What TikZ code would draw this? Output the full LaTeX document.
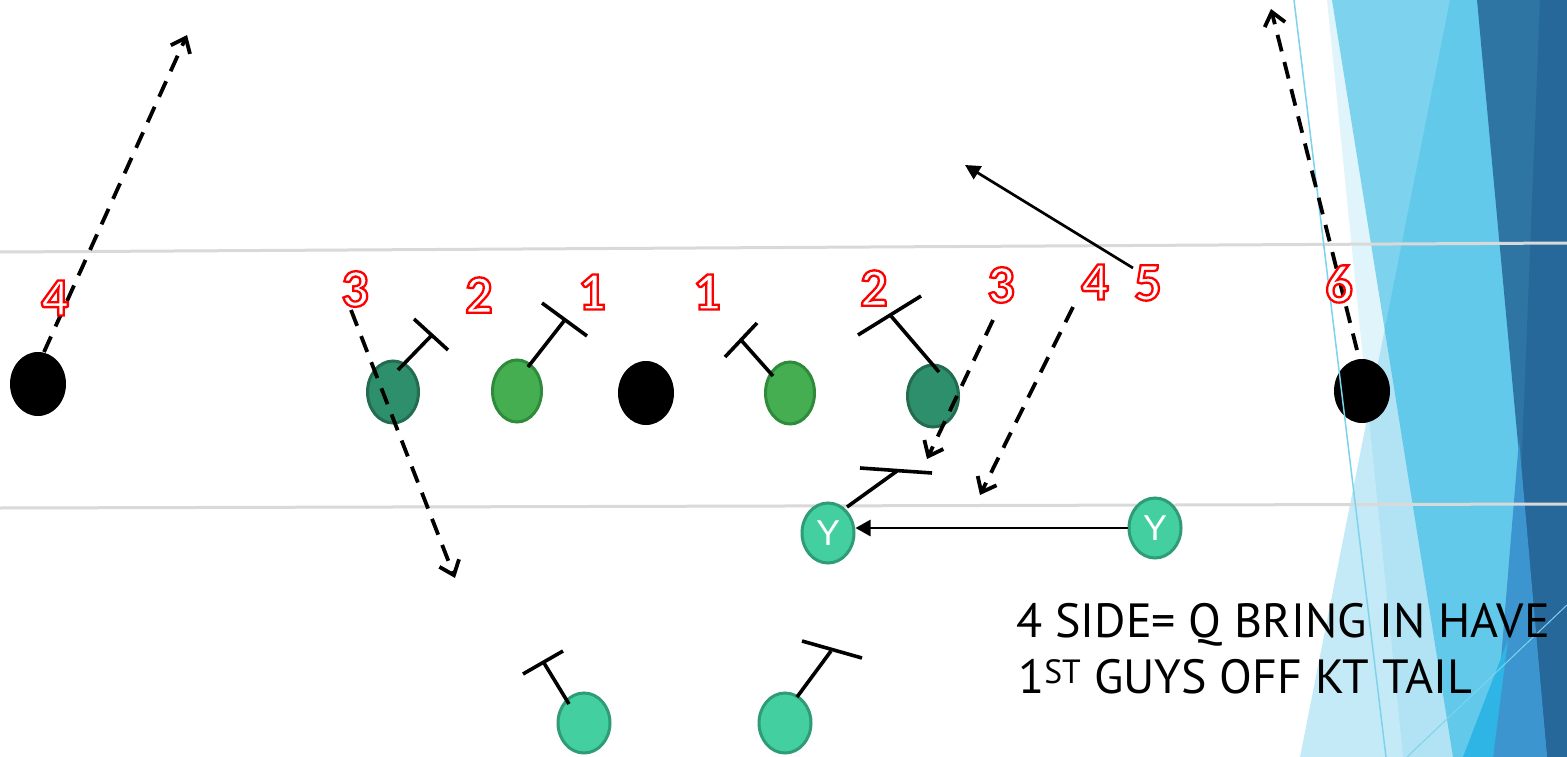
\documentclass[tikz,border=0pt]{standalone}
\usepackage{fontspec}
\setmainfont{Carlito}
\newfontfamily\numfont{Carlito}
\newfontfamily\txtfont{PT Sans}
\newfontfamily\yfont{Liberation Sans}
\usetikzlibrary{shapes.geometric,arrows.meta}
\definecolor{pA}{HTML}{C5EAF7}
\definecolor{pS}{RGB}{100,200,236}
\definecolor{pB}{RGB}{10,172,223}
\definecolor{pDark}{HTML}{2E75A3}
\definecolor{pDarker}{HTML}{27689B}
\definecolor{pMed}{HTML}{3D95CF}
\definecolor{pBright}{HTML}{2EB5E5}
\definecolor{pLine}{HTML}{7DD3EE}
\definecolor{fieldline}{HTML}{D9D9D9}
\definecolor{dgfill}{HTML}{2D8F6B}
\definecolor{dgline}{HTML}{236C50}
\definecolor{lgfill}{HTML}{45AE50}
\definecolor{lgline}{HTML}{2E8B3B}
\definecolor{tlfill}{HTML}{44CFA0}
\definecolor{tlline}{HTML}{2E9C75}
\newcommand\outl[1]{\special{pdf:literal direct 2 Tr 2.3 w 1 0 0 RG}#1\special{pdf:literal direct 0 Tr}}
\tikzset{
  player/.style={ellipse, inner sep=0pt, line width=3pt},
  blk/.style={player, fill=black, minimum width=56pt, minimum height=64pt},
  dg/.style={player, fill=dgfill, draw=dgline, minimum width=51pt, minimum height=62pt},
  lg/.style={player, fill=lgfill, draw=lgline, minimum width=49pt, minimum height=62pt},
  tl/.style={player, fill=tlfill, draw=tlline, minimum width=52pt, minimum height=60pt, text=white, font=\yfont\fontsize{36}{36}\selectfont},
  block/.style={line width=3.6pt},
  route/.style={line width=3.8pt, dash pattern=on 17pt off 11pt, -{Straight Barb[length=13pt,width=21pt]}},
  motion/.style={line width=2.7pt, -{Triangle[length=15pt,width=15pt]}},
  num/.style={font=\numfont\bfseries\fontsize{54}{54}\selectfont, text=white, inner sep=0pt},
  note/.style={anchor=base west, inner sep=0pt, font=\txtfont\fontsize{48}{48}\selectfont},
  field/.style={draw=fieldline, line width=3pt}
}
\begin{document}
\begin{tikzpicture}[x=1pt,y=-1pt]
\useasboundingbox (0,0) rectangle (1567,757);
\fill[white] (0,0) rectangle (1567,757);
% background panel (Facet theme)
\fill[pA] (1450,0) -- (1567,0) -- (1567,757) -- (1300,757) -- cycle;
\fill[pS, fill opacity=0.2] (1327,0) -- (1332,0) -- (1453,757) -- (1403,757) -- cycle;
\fill[pB, fill opacity=0.53] (1332,0) -- (1567,0) -- (1567,757) -- (1453,757) -- cycle;
\fill[pDark] (1477,0) -- (1567,0) -- (1567,757) -- (1547,757) -- cycle;
\fill[pDarker] (1540,0) -- (1567,0) -- (1567,757) -- (1547,757) -- (1521,477) -- cycle;
\fill[pMed] (1519,440) -- (1493,757) -- (1547,757) -- cycle;
\fill[pBright] (1463,757) -- (1493,757) -- (1508,640) -- cycle;
\draw[pLine, line width=1pt] (1407,757) -- (1567,605);
% field lines
\draw[field] (0,252) -- (1567,243);
\draw[field] (0,508) -- (1567,504);
% players
\node[blk] (blackL) at (38,384) {};
\node[dg] (dg1) at (393,392) {};
\node[lg] (lg1) at (517,391) {};
\node[blk] (blackC) at (646,393) {};
\node[lg] (lg2) at (790,393) {};
\node[dg] (dg2) at (933,396) {};
\node[blk] (blackR) at (1362,391) {};
\node[tl] (yL) at (828,533) {Y};
\node[tl] (yR) at (1155,528) {Y};
\node[tl] (bL) at (584,723) {};
\node[tl] (bR) at (785,723) {};
\draw[pLine, line width=1.5pt] (1294,0) -- (1386,757);
% block coordinates
\coordinate (dg1s) at (398,370); \coordinate (dg1t) at (431,336);
\coordinate (dg1a) at (414,319); \coordinate (dg1b) at (448,350);
\coordinate (lg1s) at (528,367); \coordinate (lg1t) at (564,321);
\coordinate (lg1a) at (542,303); \coordinate (lg1b) at (587,336);
\coordinate (lg2s) at (773,376); \coordinate (lg2t) at (741,340);
\coordinate (lg2a) at (757,323); \coordinate (lg2b) at (725,357);
\coordinate (dg2s) at (939,372); \coordinate (dg2t) at (891,316);
\coordinate (dg2a) at (921,296); \coordinate (dg2b) at (858,335);
\coordinate (yLs) at (847,507); \coordinate (yLt) at (897,471);
\coordinate (yLa) at (860,468); \coordinate (yLb) at (932,473);
\coordinate (bLs) at (569,704); \coordinate (bLt) at (544,663);
\coordinate (bLa) at (523,674); \coordinate (bLb) at (563,651);
\coordinate (bRs) at (797,697); \coordinate (bRt) at (831,651);
\coordinate (bRa) at (802,641); \coordinate (bRb) at (862,658);
\foreach \p in {dg1,lg1,lg2,dg2,yL,bL,bR}{
  \draw[block] (\p s) -- (\p t);
  \draw[block] (\p a) -- (\p b);
}
% route coordinates
\coordinate (r1s) at (44,352); \coordinate (r1e) at (187,35);
\coordinate (r2s) at (351,310); \coordinate (r2e) at (455,578);
\coordinate (r3s) at (993,320); \coordinate (r3e) at (927,459);
\coordinate (r4s) at (1073,307); \coordinate (r4e) at (980,495);
\coordinate (r6s) at (1357,350); \coordinate (r6e) at (1271,9);
\coordinate (r5s) at (1133,268); \coordinate (r5e) at (965,165);
\draw[route] (r1s) -- (r1e);
\draw[route] (r2s) -- (r2e);
\draw[route] (r3s) -- (r3e);
\draw[route] (r4s) -- (r4e);
\draw[route] (r6s) -- (r6e);
\draw[motion] (r5s) -- (r5e);
\draw[motion, -{Triangle[length=15pt,width=16pt]}] (yR.west) -- (yR.west -| yL.east);
% gap numbers
\node[num] (n4a) at (55,298) {\outl{4}};
\node[num] (n3a) at (355,289) {\outl{3}};
\node[num] (n2a) at (479,295) {\outl{2}};
\node[num] (n1a) at (592,292) {\outl{1}};
\node[num] (n1b) at (707,292) {\outl{1}};
\node[num] (n2b) at (874,288) {\outl{2}};
\node[num] (n3b) at (1001,285) {\outl{3}};
\node[num] (n4b) at (1095,282) {\outl{4}};
\node[num] (n5) at (1148,283) {\outl{5}};
\node[num] (n6) at (1339,284) {\outl{6}};
% note
\node[note] (t1) at (1016,637) {4 SIDE= Q BRING IN HAVE};
\node[note] (t2) at (1018,693) {1\textsuperscript{ST} GUYS OFF KT TAIL};
\end{tikzpicture}
\end{document}
